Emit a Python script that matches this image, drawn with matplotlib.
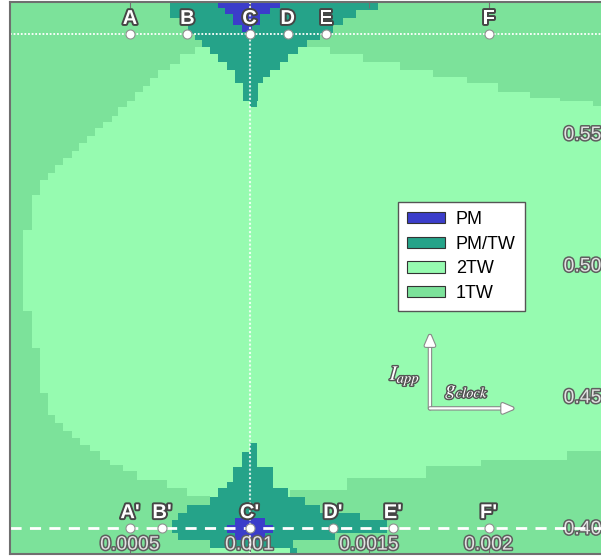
import matplotlib
matplotlib.use("Agg")
import matplotlib.pyplot as plt
import matplotlib.patheffects as pe
from matplotlib.patches import Patch
import numpy as np

plt.rcParams['font.family'] = ['Liberation Sans', 'DejaVu Sans']
plt.rcParams['mathtext.fontset'] = 'stix'

# regime colours
C_PM = '#3b3dca'
C_PMTW = '#25a389'
C_2TW = '#96fbb0'
C_1TW = '#7ce29a'

# --- region boundaries (g_clock in units of 1e-3) ---
# 1TW strip on the left: x from 0 to left_x, rows between left_y edges (ascending)
left_y = [0.3900, 0.4120, 0.4150, 0.4181, 0.4215, 0.4238, 0.4257, 0.4291, 0.4314,
          0.4340, 0.4367, 0.4397, 0.4428, 0.4511, 0.4683, 0.4823, 0.5131, 0.5264,
          0.5321, 0.5348, 0.5378, 0.5405, 0.5435, 0.5462, 0.5492, 0.5519, 0.5542,
          0.5568, 0.5599, 0.5625, 0.5656, 0.5682, 0.5709, 0.5740, 0.5766, 0.5804,
          0.5827, 0.6000]
left_x = [0.835, 0.738, 0.655, 0.529, 0.471, 0.416, 0.374, 0.333, 0.291, 0.257,
          0.220, 0.186, 0.157, 0.123, 0.090, 0.052, 0.090, 0.123, 0.157, 0.186,
          0.220, 0.257, 0.287, 0.320, 0.354, 0.387, 0.425, 0.450, 0.487, 0.521,
          0.554, 0.584, 0.617, 0.667, 0.709, 0.772, 0.900]

# 1TW band at the top right: from top_y up to 0.60, columns between top_x edges
top_x = [1.232, 1.337, 1.475, 1.630, 1.768, 1.910, 2.040, 2.174, 2.299, 2.437, 2.500]
top_y = [0.5827, 0.5804, 0.5770, 0.5740, 0.5713, 0.5690, 0.5656, 0.5633, 0.5625, 0.5606]

# 1TW band at the bottom right: from 0.39 up to bot_y
bot_x = [1.17, 1.41, 1.74, 1.97, 2.33, 2.47, 2.50]
bot_y = [0.4145, 0.4190, 0.4234, 0.4257, 0.4291, 0.4314]

# PM/TW wedge at the top (rows from the top edge downwards)
pmtw_top_y = [0.6000, 0.5968, 0.5941, 0.5911, 0.5880, 0.5854, 0.5827, 0.5801,
              0.5770, 0.5740, 0.5713, 0.5690, 0.5625, 0.5599]
pmtw_top_lo = [0.667, 0.667, 0.709, 0.743, 0.772, 0.801, 0.835, 0.868, 0.906,
               0.939, 0.939, 0.973, 1.002]
pmtw_top_hi = [1.538, 1.445, 1.391, 1.349, 1.295, 1.241, 1.203, 1.161, 1.128,
               1.086, 1.056, 1.036, 1.031]

# PM/TW wedge at the bottom
pmtw_bot_y = [0.4321, 0.4287, 0.4230, 0.4173, 0.4150, 0.4116, 0.4086, 0.4055,
              0.4029, 0.3979, 0.3952, 0.3922, 0.3900]
pmtw_bot_lo = [1.002, 0.969, 0.931, 0.906, 0.868, 0.835, 0.738, 0.701, 0.676,
               0.701, 0.835, 1.170]
pmtw_bot_hi = [1.031, 1.031, 1.098, 1.098, 1.161, 1.232, 1.295, 1.462, 1.576,
               1.358, 1.182, 1.199]

# PM cores
pm_top_y = [0.6000, 0.5979, 0.5956, 0.5911, 0.5884]
pm_top_lo = [0.868, 0.897, 0.931, 0.969]
pm_top_hi = [1.128, 1.086, 1.044, 1.010]
pm_bot_y = [0.4036, 0.4010, 0.3979, 0.3952]
pm_bot_lo = [0.939, 0.906, 0.939]
pm_bot_hi = [1.065, 1.098, 1.065]

# marked parameter points
I_top = 0.588
I_bot = 0.400
top_names = ['A', 'B', 'C', 'D', 'E', 'F']
top_g = [0.50, 0.74, 1.00, 1.16, 1.32, 2.00]
bot_names = ["A'", "B'", "C'", "D'", "E'", "F'"]
bot_g = [0.50, 0.634, 1.00, 1.349, 1.60, 2.00]

xticks = [0.0005, 0.001, 0.0015, 0.002]
xtick_labels = ['0.0005', '0.001', '0.0015', '0.002']
yticks = [0.40, 0.45, 0.50, 0.55]
ytick_labels = ['0.40', '0.45', '0.50', '0.55']

legend_names = ['PM', 'PM/TW', '2TW', '1TW']
legend_colors = [C_PM, C_PMTW, C_2TW, C_1TW]


def ext(v):
    v = np.asarray(v, dtype=float)
    return np.append(v, v[-1])


def rows(ax, y_edges, lo, hi, color, z):
    ax.fill_betweenx(y_edges, ext(lo) * 1e-3, ext(hi) * 1e-3, step='post',
                     color=color, lw=0, zorder=z)


fig = plt.figure(figsize=(6.01, 5.58), dpi=100)
W, H = 601.0, 558.0
ax = fig.add_axes([10.5 / W, 4 / H, 597.5 / W, 552 / H])
ax.set_xlim(0, 0.0025)
ax.set_ylim(0.39, 0.60)
ax.set_facecolor(C_2TW)

rows(ax, left_y, np.zeros(len(left_x)), left_x, C_1TW, 1)
ax.fill_between(np.array(top_x) * 1e-3, ext(top_y), 0.60, step='post',
                color=C_1TW, lw=0, zorder=1)
ax.fill_between(np.array(bot_x) * 1e-3, 0.39, ext(bot_y), step='post',
                color=C_1TW, lw=0, zorder=1)
rows(ax, pmtw_top_y, pmtw_top_lo, pmtw_top_hi, C_PMTW, 1.2)
rows(ax, pmtw_bot_y, pmtw_bot_lo, pmtw_bot_hi, C_PMTW, 1.2)
rows(ax, pm_top_y, pm_top_lo, pm_top_hi, C_PM, 1.4)
rows(ax, pm_bot_y, pm_bot_lo, pm_bot_hi, C_PM, 1.4)

# guide lines
ax.axhline(I_top, color='white', lw=1.3, ls=(0, (1, 1)), zorder=2)
ax.axhline(I_bot, color='white', lw=2, ls=(0, (4, 3)), zorder=2)
ax.axvline(0.001, color='white', lw=1.5, ls=(0, (1, 1)), alpha=0.8, zorder=2)

outline = [pe.Stroke(linewidth=2.8, foreground='#454545'), pe.Normal()]
for names, gs, yy in [(top_names, top_g, I_top), (bot_names, bot_g, I_bot)]:
    ax.plot(np.array(gs) * 1e-3, [yy] * len(gs), 'o', ms=6.5, mfc='white',
            mec='#909090', mew=0.8, zorder=4)
    for n, g in zip(names, gs):
        ax.annotate(n, (g * 1e-3, yy), xytext=(0, 4), textcoords='offset points',
                    ha='center', va='bottom', fontsize=14.5, fontweight='bold',
                    color='white', path_effects=outline, zorder=5)

# ticks drawn inside the frame
ax.set_xticks(xticks)
ax.set_xticklabels(xtick_labels)
ax.set_yticks(yticks)
ax.set_yticklabels(ytick_labels)
ax.tick_params(axis='x', direction='in', top=True, bottom=True, length=4,
               color='#707070', pad=-12.5, labelsize=14, labelcolor='#e2e2e2')
ax.tick_params(axis='y', direction='in', left=False, right=True, labelleft=False,
               labelright=True, length=4, color='#707070', pad=-32,
               labelsize=14, labelcolor='#e2e2e2')
tick_fx = [pe.Stroke(linewidth=2.2, foreground='#5e5e5e'), pe.Normal()]
for t in ax.get_xticklabels() + ax.get_yticklabels():
    t.set_path_effects(tick_fx)
for s in ax.spines.values():
    s.set_color('#6f6f6f')
    s.set_linewidth(1.5)

handles = [Patch(facecolor=c, edgecolor='#333333', lw=0.8) for c in legend_colors]
leg = ax.legend(handles, legend_names, loc='upper left',
                bbox_to_anchor=(387.5 / 597.5, 1 - 200 / 552), borderaxespad=0,
                fontsize=13, fancybox=False, framealpha=1, edgecolor='#555555',
                handlelength=2.1, handleheight=0.6, handletextpad=0.6,
                labelspacing=0.42, borderpad=0.5)
leg.get_frame().set_linewidth(1.0)
leg.set_zorder(6)

# direction arrows for the two parameters
origin = (1.755e-3, 0.4454)
arrow_fx = [pe.Stroke(linewidth=3.2, foreground='#8a8a8a'), pe.Normal()]
for tip in [(1.755e-3, 0.4740), (2.111e-3, 0.4454)]:
    a = ax.annotate('', xy=tip, xytext=origin, zorder=5,
                    arrowprops=dict(arrowstyle='-|>,head_length=0.7,head_width=0.3',
                                    color='white', lw=1.6, shrinkA=0, shrinkB=0))
    a.arrow_patch.set_path_effects(arrow_fx)
lab_fx = [pe.Stroke(linewidth=2, foreground='#555555'), pe.Normal()]
ax.text(1.651e-3, 0.4576, r'$I_{app}$', ha='center', va='center', fontsize=15,
        color='white', path_effects=lab_fx, zorder=5)
ax.text(1.910e-3, 0.4519, r'$g_{clock}$', ha='center', va='center', fontsize=15,
        color='white', path_effects=lab_fx, zorder=5)

fig.savefig('out.png', dpi=100)
